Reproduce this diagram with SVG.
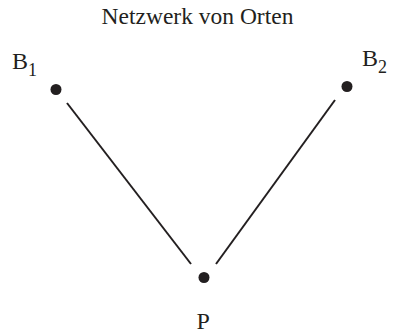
<svg xmlns="http://www.w3.org/2000/svg" width="393" height="332" viewBox="0 0 393 332">
<style>
text{font-family:"Liberation Serif","Times New Roman",serif;fill:#231f20;}
.t{font-size:23.5px;}
.b{font-size:24px;}
.s{font-size:18px;}
.e{stroke:#231f20;stroke-width:2;fill:none;}
.d{fill:#231f20;}
</style>
<rect width="393" height="332" fill="#fff"/>
<text class="t" x="197.5" y="24" text-anchor="middle">Netzwerk von Orten</text>
<g id="connectors">
<line class="e" x1="67" y1="103" x2="191" y2="264"/>
<line class="e" x1="335" y1="100" x2="216" y2="264"/>
</g>
<g id="B1">
<circle class="d" cx="56" cy="89.5" r="5.5"/>
<text class="b" x="12" y="69">B<tspan class="s" dy="6.5">1</tspan></text>
</g>
<g id="B2">
<circle class="d" cx="347" cy="86.5" r="5.5"/>
<text class="b" x="362" y="66">B<tspan class="s" dy="6.5">2</tspan></text>
</g>
<g id="P">
<circle class="d" cx="204" cy="277.5" r="5.5"/>
<text class="b" x="196.5" y="328.5">P</text>
</g>
</svg>
